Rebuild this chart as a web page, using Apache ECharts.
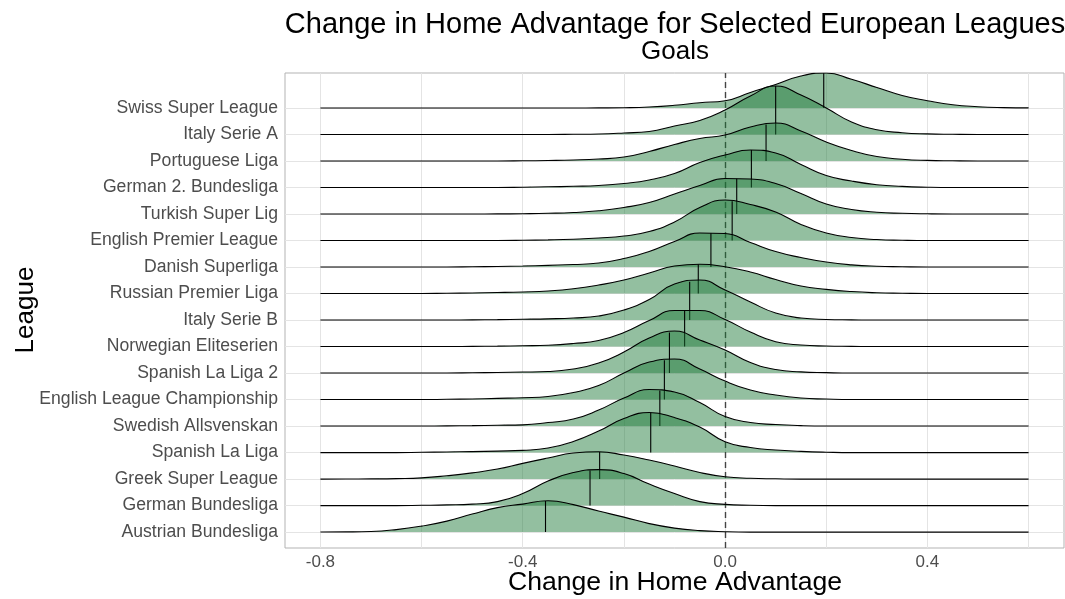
<!DOCTYPE html>
<html><head><meta charset="utf-8">
<script src="https://cdn.jsdelivr.net/npm/echarts@6/dist/echarts.min.js"></script>
<style>html,body{margin:0;padding:0;background:#fff}#c{width:1065px;height:599px}</style>
</head><body><div id="c"></div>
<script>
// Leagues, top to bottom
const leagues = ["Swiss Super League","Italy Serie A","Portuguese Liga","German 2. Bundesliga","Turkish Super Lig","English Premier League","Danish Superliga","Russian Premier Liga","Italy Serie B","Norwegian Eliteserien","Spanish La Liga 2","English League Championship","Swedish Allsvenskan","Spanish La Liga","Greek Super League","German Bundesliga","Austrian Bundesliga"];
// shared x grid of the density estimates
const xGrid = [-0.8,-0.75,-0.7,-0.65,-0.6,-0.55,-0.5,-0.45,-0.4,-0.35,-0.3,-0.25,-0.2,-0.15,-0.1,-0.05,0,0.05,0.1,0.15,0.2,0.25,0.3,0.35,0.4,0.45,0.5,0.55,0.6];
// estimated densities per league
const dSwiss      = [0,0,0,0,0,0,0,0,0,0,0,0.01,0.03,0.10,0.27,0.53,0.73,1.55,2.35,3.20,3.50,2.87,2.05,1.25,0.73,0.32,0.13,0.04,0.01];
const dItalyA     = [0,0,0,0,0,0,0,0,0,0,0.02,0.05,0.15,0.30,0.85,1.40,2.45,3.85,4.85,3.95,2.65,1.25,0.48,0.18,0.06,0.02,0,0,0];
const dPortugal   = [0,0,0,0,0,0,0,0,0.02,0.05,0.10,0.20,0.40,0.95,1.65,2.25,2.60,3.40,3.80,3.00,1.90,1.05,0.45,0.18,0.06,0.02,0,0,0];
const dGerman2    = [0,0,0,0,0,0,0,0,0.03,0.07,0.12,0.20,0.40,0.75,1.40,2.50,3.25,3.75,3.45,2.30,1.20,0.65,0.28,0.11,0.03,0,0,0,0];
const dTurkey     = [0,0,0,0,0,0,0,0.01,0.03,0.07,0.15,0.32,0.65,1.15,2.00,2.85,3.55,3.50,3.05,2.05,1.00,0.45,0.18,0.07,0.02,0,0,0,0];
const dEPL        = [0,0,0,0,0,0,0,0,0.02,0.06,0.13,0.25,0.45,0.90,1.85,3.30,4.05,3.60,2.85,1.60,0.75,0.30,0.10,0.03,0,0,0,0,0];
const dDenmark    = [0,0,0,0,0,0,0.03,0.06,0.10,0.17,0.25,0.40,0.85,1.55,2.55,3.40,3.35,2.45,1.55,0.95,0.50,0.22,0.08,0.03,0,0,0,0,0];
const dRussia     = [0,0,0,0,0,0.03,0.06,0.10,0.16,0.26,0.48,0.85,1.35,2.05,2.75,2.93,2.68,2.15,1.40,0.75,0.42,0.20,0.08,0.03,0,0,0,0,0];
const dItalyB     = [0,0,0,0,0,0,0.02,0.04,0.08,0.12,0.20,0.40,1.00,2.05,3.60,4.00,3.00,1.80,0.70,0.20,0.06,0.02,0,0,0,0,0,0,0];
const dNorway     = [0,0,0,0,0,0,0.02,0.04,0.08,0.13,0.30,0.60,1.40,2.60,3.60,3.60,2.70,1.45,0.48,0.15,0.05,0.02,0,0,0,0,0,0,0];
const dSpain2     = [0,0,0,0,0,0,0.03,0.06,0.10,0.15,0.40,1.00,2.10,3.50,4.20,3.30,2.30,1.05,0.35,0.12,0.04,0,0,0,0,0,0,0,0];
const dChamp      = [0,0,0,0,0,0.03,0.06,0.12,0.18,0.30,0.70,1.40,2.65,3.75,4.05,3.05,1.85,0.95,0.45,0.15,0.05,0,0,0,0,0,0,0,0];
const dSweden     = [0,0,0,0,0,0.02,0.04,0.08,0.12,0.35,0.70,1.60,2.80,3.65,3.40,2.35,0.95,0.35,0.15,0.04,0,0,0,0,0,0,0,0,0];
const dSpain      = [0,0,0,0,0.03,0.06,0.10,0.15,0.22,0.45,1.10,2.15,3.40,4.00,3.50,2.55,1.08,0.50,0.25,0.12,0.04,0,0,0,0,0,0,0,0];
const dGreece     = [0,0.01,0.02,0.05,0.12,0.33,0.62,1.00,1.57,2.10,2.60,2.73,2.40,1.90,1.30,0.65,0.23,0.08,0.03,0,0,0,0,0,0,0,0,0,0];
const dGermany    = [0,0,0,0,0.03,0.07,0.15,0.40,1.20,2.45,3.30,3.60,3.20,2.15,1.20,0.40,0.12,0.03,0,0,0,0,0,0,0,0,0,0,0];
const dAustria    = [0.01,0.02,0.06,0.25,0.60,1.10,1.80,2.45,2.80,3.13,2.75,2.10,1.50,0.85,0.40,0.15,0.04,0,0,0,0,0,0,0,0,0,0,0,0];
const densities = [dSwiss,dItalyA,dPortugal,dGerman2,dTurkey,dEPL,dDenmark,dRussia,dItalyB,dNorway,dSpain2,dChamp,dSweden,dSpain,dGreece,dGermany,dAustria];
// medians (quantile lines), top to bottom
const medians = [0.195,0.100,0.081,0.052,0.023,0.014,-0.028,-0.053,-0.070,-0.080,-0.110,-0.120,-0.129,-0.147,-0.248,-0.267,-0.355];
const xTicks = [-0.8,-0.4,0,0.4];
const xGridLines = [-0.8,-0.6,-0.4,-0.2,0,0.2,0.4,0.6];

const n = leagues.length;
const scale = 10/26.5;   // rows per density unit
const FONT = '"Liberation Sans", Arial, Helvetica, sans-serif';
const fill = 'rgba(26,119,54,0.47)';

function interp(d, x){
  for (let j=0;j<xGrid.length-1;j++){
    if (x>=xGrid[j] && x<=xGrid[j+1]){
      const t=(x-xGrid[j])/(xGrid[j+1]-xGrid[j]);
      return d[j]+(d[j+1]-d[j])*t;
    }
  }
  return 0;
}

const series = [];
series.push({
  type:'line', data:[], silent:true, z:1,
  markLine:{silent:true, symbol:['none','none'], label:{show:false}, animation:false,
    lineStyle:{color:'#e4e4e4', width:1, type:'solid'},
    data: xGridLines.map(v=>({xAxis:v})).concat(leagues.map((_,i)=>({yAxis:i})))
  }
});
densities.forEach((d,k)=>{
  const base = n-1-k;
  series.push({
    type:'line', name:leagues[k], silent:true, animation:false, z:10+2*k,
    data: xGrid.map((x,j)=>[x, base + d[j]*scale]),
    smooth:0.5, symbol:'none', showSymbol:false,
    lineStyle:{color:'#000', width:1.1},
    areaStyle:{color:fill, origin:base, opacity:1}
  });
  const m = medians[k];
  series.push({
    type:'line', silent:true, animation:false, z:11+2*k,
    data:[[m, base],[m, base + interp(d,m)*scale]],
    symbol:'none', showSymbol:false, lineStyle:{color:'#000', width:1.1}
  });
});
series.push({
  type:'line', data:[], silent:true, z:100,
  markLine:{silent:true, symbol:['none','none'], label:{show:false}, animation:false,
    lineStyle:{color:'#444', width:1.4, type:[6,4]},
    data:[{xAxis:0}]
  }
});

const chart = echarts.init(document.getElementById('c'), null, {renderer:'canvas'});
chart.setOption({
  animation:false,
  backgroundColor:'#fff',
  grid:{left:285, top:73, width:779, height:475, show:true, borderColor:'#b3b3b3', borderWidth:1, backgroundColor:'transparent', containLabel:false},
  xAxis:{type:'value', min:-0.87, max:0.67,
    axisLine:{show:false}, splitLine:{show:false},
    axisTick:{show:true, customValues:xTicks, length:4, lineStyle:{color:'#b3b3b3'}},
    axisLabel:{customValues:xTicks, formatter:v=>Number(v).toFixed(1), color:'#4d4d4d', fontSize:17, fontFamily:FONT, margin:6}
  },
  yAxis:{type:'value', min:-0.6, max:17.32,
    axisLine:{show:false}, splitLine:{show:false},
    axisTick:{show:true, customValues:leagues.map((_,i)=>i), length:4, lineStyle:{color:'#b3b3b3'}},
    axisLabel:{customValues:leagues.map((_,i)=>i), formatter:v=>leagues[n-1-Math.round(v)], color:'#4d4d4d', fontSize:17.6, fontFamily:FONT, margin:7}
  },
  graphic:[
    {type:'text', x:675, y:25, style:{text:'Change in Home Advantage for Selected European Leagues', font:'29px '+FONT, fill:'#000', align:'center', verticalAlign:'middle', textAlign:'center', textVerticalAlign:'middle'}},
    {type:'text', x:675, y:52, style:{text:'Goals', font:'26px '+FONT, fill:'#000', align:'center', verticalAlign:'middle', textAlign:'center', textVerticalAlign:'middle'}},
    {type:'text', x:26, y:310, rotation:Math.PI/2, style:{text:'League', font:'26px '+FONT, fill:'#000', align:'center', verticalAlign:'middle', textAlign:'center', textVerticalAlign:'middle'}},
    {type:'text', x:675, y:583, style:{text:'Change in Home Advantage', font:'26.6px '+FONT, fill:'#000', align:'center', verticalAlign:'middle', textAlign:'center', textVerticalAlign:'middle'}}
  ],
  series:series
});
</script></body></html>
